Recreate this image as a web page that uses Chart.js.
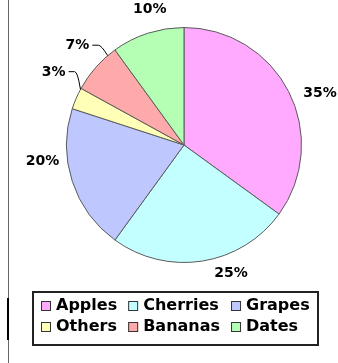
<!doctype html>
<html lang="en">
<head>
<meta charset="utf-8">
<title>Fruit share</title>
<script src="https://cdn.jsdelivr.net/npm/chart.js@4.4.1/dist/chart.umd.min.js"></script>
<style>
    html, body { margin: 0; padding: 0; background: #fff; }
    canvas { display: block; }
</style>
</head>
<body>
<canvas id="pieCanvas" width="338" height="363"></canvas>
<script>
    // slices run clockwise from twelve o'clock
    const fruits = ['Apples', 'Cherries', 'Grapes', 'Others', 'Bananas', 'Dates'];
    const shares = [35, 25, 20, 3, 7, 10];
    const colors = ['#ffaaff', '#c4ffff', '#bec8ff', '#ffffb8', '#ffaaaa', '#b4ffb4'];
    // legend rows, as indexes into fruits
    const legendRows = [[0, 1, 2], [3, 4, 5]];

    // percent labels outside the pie, small slices get a hooked leader line
    const sliceLabels = {
        id: 'sliceLabels',
        afterDatasetsDraw(chart, args, opts) {
            const ctx = chart.ctx;
            const meta = chart.getDatasetMeta(0);
            ctx.save();
            ctx.font = opts.font;
            ctx.fillStyle = '#000';
            ctx.strokeStyle = '#000';
            ctx.lineWidth = 1;
            ctx.textAlign = 'center';
            ctx.textBaseline = 'middle';
            meta.data.forEach(function (arc, i) {
                const p = arc.getProps(['x', 'y', 'startAngle', 'endAngle', 'outerRadius'], true);
                const mid = (p.startAngle + p.endAngle) / 2;
                const text = shares[i] + '%';
                const w = ctx.measureText(text).width;
                const h = 14;
                const cos = Math.cos(mid);
                const sin = Math.sin(mid);
                const r = p.outerRadius + opts.gap;
                const shift = opts.shift[i] || [0, 0];
                const cx = p.x + r * cos + (w / 2) * cos + shift[0];
                const cy = p.y + r * sin + (h / 2) * sin + shift[1];
                ctx.fillText(text, cx, cy);

                if (shares[i] < opts.leaderBelow) {
                    const x0 = cx + w / 2 + 3;
                    const x1 = cx + w / 2 + 9;
                    const ly = cy - 1;
                    let a = Math.atan2(ly - p.y, x1 - p.x);
                    while (a < p.startAngle) a += Math.PI * 2;
                    a = Math.min(Math.max(a, p.startAngle + 0.01), p.endAngle - 0.01);
                    const ex = p.x + p.outerRadius * Math.cos(a);
                    const ey = p.y + p.outerRadius * Math.sin(a);
                    ctx.beginPath();
                    ctx.moveTo(x0, ly + 0.5);
                    ctx.lineTo(x1, ly + 0.5);
                    ctx.quadraticCurveTo(x1 + 3, ly + 0.5, ex, ey);
                    ctx.stroke();
                }
            });
            ctx.restore();
        }
    };

    // boxed legend, laid out as a grid
    const boxLegend = {
        id: 'boxLegend',
        afterDraw(chart, args, opts) {
            const ctx = chart.ctx;
            const box = opts.box;
            ctx.save();

            // frame line down the left edge
            ctx.fillStyle = '#666';
            ctx.fillRect(8, 0, 1, chart.height);
            ctx.fillStyle = '#000';
            ctx.fillRect(7, 298, 2, 42);

            ctx.strokeStyle = '#222';
            ctx.lineWidth = 2;
            ctx.strokeRect(box.left, box.top, box.width, box.height);

            ctx.font = opts.font;
            ctx.textBaseline = 'middle';
            ctx.textAlign = 'left';
            const sq = opts.boxSize;
            const ncol = legendRows[0].length;
            let colWidths = [];
            for (let c = 0; c < ncol; c++) {
                let m = 0;
                legendRows.forEach(function (row) {
                    m = Math.max(m, sq + opts.textGap + ctx.measureText(fruits[row[c]]).width);
                });
                colWidths.push(m);
            }
            const total = colWidths.reduce(function (s, v) { return s + v; }, 0) + opts.colGap * (ncol - 1);
            const startX = Math.round(box.left + box.width / 2 - total / 2);

            legendRows.forEach(function (row, r) {
                const y = box.top + opts.firstRow + r * opts.rowStep;
                let x = startX;
                row.forEach(function (idx, c) {
                    const sy = Math.round(y - sq / 2);
                    ctx.fillStyle = colors[idx];
                    ctx.fillRect(x, sy, sq, sq);
                    ctx.strokeStyle = '#333';
                    ctx.lineWidth = 1;
                    ctx.strokeRect(x + 0.5, sy + 0.5, sq - 1, sq - 1);
                    ctx.fillStyle = '#000';
                    ctx.fillText(fruits[idx], x + sq + opts.textGap, y);
                    x += colWidths[c] + opts.colGap;
                });
            });
            ctx.restore();
        }
    };

    new Chart(document.getElementById('pieCanvas'), {
        type: 'pie',
        data: {
            labels: fruits,
            datasets: [{
                data: shares,
                backgroundColor: colors,
                borderColor: '#5a5a5a',
                borderWidth: 1
            }]
        },
        options: {
            responsive: false,
            animation: false,
            layout: {
                padding: {left: 66, right: 36, top: 27, bottom: 100}
            },
            plugins: {
                legend: {display: false},
                tooltip: {enabled: false},
                sliceLabels: {
                    font: 'bold 14px "DejaVu Sans"',
                    gap: 6,
                    leaderBelow: 8,
                    shift: [[11, 8], [25, -1], [-8, -24], [-6, -21], [-5, -13], [9, -12]]
                },
                boxLegend: {
                    font: 'bold 16px "DejaVu Sans"',
                    box: {left: 33, top: 292, width: 285, height: 53},
                    boxSize: 10,
                    textGap: 5,
                    colGap: 11,
                    firstRow: 14,
                    rowStep: 21
                }
            }
        },
        plugins: [sliceLabels, boxLegend]
    });
</script>
</body>
</html>
